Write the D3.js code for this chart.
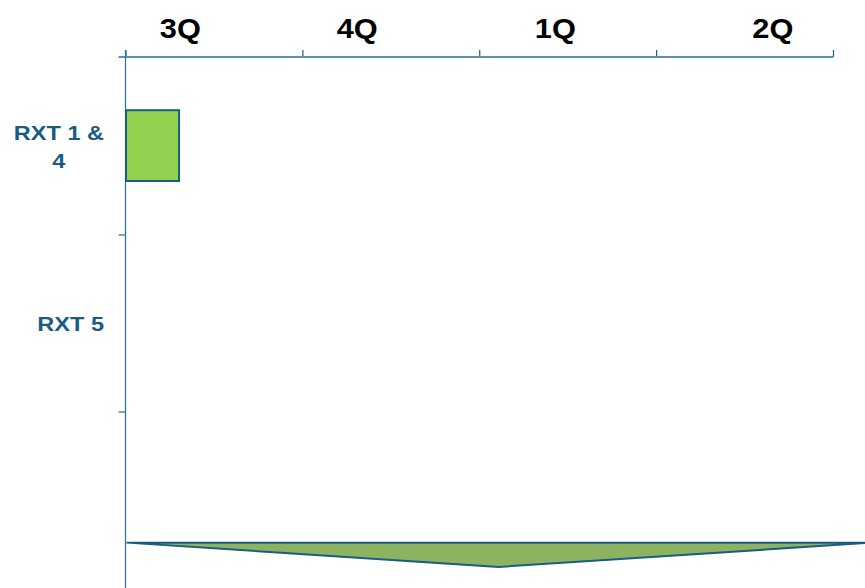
<!DOCTYPE html>
<html><head><meta charset="utf-8">
<script src="https://cdn.jsdelivr.net/npm/d3@7"></script>
<style>html,body{margin:0;padding:0;background:#fff;}svg{display:block;}</style>
</head><body>
<script>
// ---- data ----
const quarters = ["3Q", "4Q", "1Q", "2Q"];
const quarterLabelAt = [0.31, 1.31, 2.43, 3.66];   // label position, in quarter units
const rows = ["RXT 1 & 4", "RXT 5", ""];
const rowLabelLines = [["RXT 1 &", "4"], ["RXT 5"], []];
const bars = [{row: "RXT 1 & 4", start: 0, end: 0.3}];
const milestone = {row: "", start: 0, peak: 2.11, end: 4.22}; // wedge spanning quarters

const W = 865, H = 588;
const svg = d3.select("body").append("svg").attr("width", W).attr("height", H);

const x = d3.scaleLinear().domain([0, 4]).range([125.5, 833]);
const y = d3.scaleBand().domain(rows).range([58, 589]).paddingInner(0).paddingOuter(0);

const axisColor = "#2C6E96";
const labelColor = "#1B5B82";

// top axis
const topAxis = svg.append("g").attr("transform", "translate(0,57)")
  .call(d3.axisTop(x).tickValues([0,1,2,3,4]).tickSize(7).tickSizeOuter(0).tickFormat(""));
topAxis.select(".domain").remove();
topAxis.selectAll(".tick line").attr("stroke", "#1B5C85").attr("stroke-width", 1.2);
svg.append("line").attr("x1", x(0) - 7).attr("x2", x(4)).attr("y1", 57).attr("y2", 57)
  .attr("stroke", "#5B93B4").attr("stroke-width", 2);

// left axis
const bounds = rows.map(r => y(r)).concat([y.range()[1]]);
const leftAxis = svg.append("g").attr("transform", `translate(${x(0)},0)`);
leftAxis.append("line").attr("x1", 0).attr("x2", 0).attr("y1", 50).attr("y2", H)
  .attr("stroke", axisColor).attr("stroke-width", 1.2);
leftAxis.selectAll("line.tk").data(bounds.slice(1, -1)).enter().append("line").attr("class", "tk")
  .attr("x1", -7).attr("x2", 0).attr("y1", d => d).attr("y2", d => d)
  .attr("stroke", axisColor).attr("stroke-width", 1.2);

// quarter labels
svg.selectAll("text.q").data(quarters).enter().append("text").attr("class", "q")
  .attr("transform", (d, i) => `translate(${x(quarterLabelAt[i])},38) scale(1.14,1)`)
  .attr("text-anchor", "middle")
  .attr("font-family", "Liberation Sans, Arial, sans-serif").attr("font-weight", "bold")
  .attr("font-size", 27).attr("fill", "#000").text(d => d);

// row labels
rows.forEach((r, ri) => {
  const lines = rowLabelLines[ri];
  const n = lines.length;
  if (!n) return;
  const cy = y(r) + y.bandwidth() / 2;
  let firstCenter = null;
  lines.forEach((ln, i) => {
    const by = cy + 7.5 + (i - (n - 1) / 2) * 28;
    const t = svg.append("text")
      .attr("font-family", "Liberation Sans, Arial, sans-serif").attr("font-weight", "bold")
      .attr("font-size", 21).attr("fill", labelColor).text(ln);
    const wdt = t.node().getComputedTextLength() * 1.12;
    let cx;
    if (i === 0) { cx = 104 - wdt / 2; firstCenter = cx; } else { cx = firstCenter; }
    t.attr("text-anchor", "middle").attr("transform", `translate(${cx},${by}) scale(1.12,1)`);
  });
});

// bars
svg.selectAll("rect.bar").data(bars).enter().append("rect").attr("class", "bar")
  .attr("x", d => x(d.start) + 0.5)
  .attr("width", d => x(d.end) - x(d.start))
  .attr("y", d => y(d.row) + y.bandwidth() * 0.295)
  .attr("height", y.bandwidth() * 0.4)
  .attr("fill", "#92D050").attr("stroke", "#1B5C85").attr("stroke-width", 2);

// milestone wedge
const my0 = y(milestone.row) + y.bandwidth() * 0.738;
const my1 = y(milestone.row) + y.bandwidth() * 0.875;
svg.append("path")
  .attr("d", d3.line()([[x(milestone.start) + 1, my0], [x(milestone.end), my0], [x(milestone.peak), my1]]) + "Z")
  .attr("fill", "#8DB260").attr("stroke", "#1B5C85").attr("stroke-width", 2).attr("stroke-linejoin", "miter");
</script>
</body></html>
